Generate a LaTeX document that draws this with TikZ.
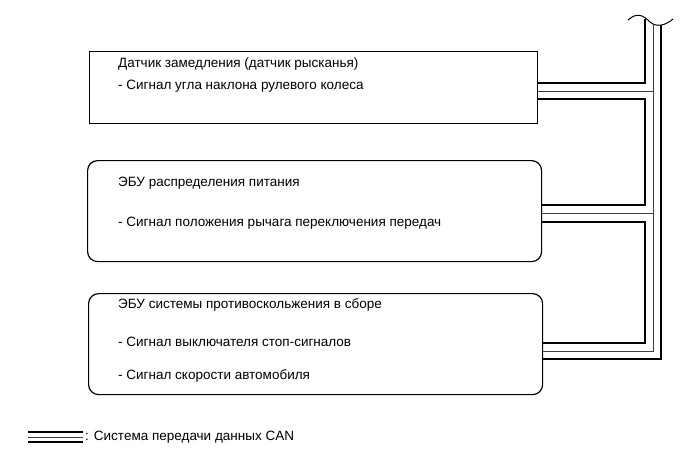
\documentclass[tikz,border=0pt]{standalone}
\usepackage{fontspec}
\setmainfont{Liberation Sans}
\usetikzlibrary{positioning}

\begin{document}
\begin{tikzpicture}[x = 1pt, y = -1pt,
	box/.style = {draw, line width = 1.3pt, anchor = north west, inner sep = 0},
	rbox/.style = {box, rounded corners = 10pt, line width = 1.2pt},
	txt/.style = {anchor = west, inner sep = 0, font = \fontsize{13.5}{15}\selectfont},
	thick bus/.style = {line width = 1.6pt},
	thin bus/.style = {line width = 0.9pt, black!75}]
	%	page
	\useasboundingbox (0, 0) rectangle (690, 467);

	%	bus setup
	\def\xa{645}
	\def\xb{653}
	\def\xc{661}

	%	units
	\node[box, minimum width = 448pt, minimum height = 72pt] (decel) at (89, 51) {};
	\node[rbox, minimum width = 454pt, minimum height = 101pt] (power) at (87, 160) {};
	\node[rbox, minimum width = 454pt, minimum height = 101pt] (abs) at (88, 293) {};

	%	texts
	\node[txt] (decel1) at (118, 64) {Датчик замедления (датчик рысканья)};
	\node[txt] (decel2) at (118, 86) {- Сигнал угла наклона рулевого колеса};
	\node[txt] (power1) at (118, 183) {ЭБУ распределения питания};
	\node[txt] (power2) at (118, 223) {- Сигнал положения рычага переключения передач};
	\node[txt] (abs1) at (118, 305) {ЭБУ системы противоскольжения в сборе};
	\node[txt] (abs2) at (118, 342) {- Сигнал выключателя стоп-сигналов};
	\node[txt] (abs3) at (118, 376) {- Сигнал скорости автомобиля};

	%	bus
	\coordinate (topa) at (\xa, 19);
	\coordinate (topb) at (\xb, 25);
	\coordinate (topc) at (\xc, 25);
	\draw[line width = 1pt] (628, 20) .. controls (637, 12) and (643, 15) .. (650, 22) .. controls (657, 28) and (666, 25) .. (673, 19);
	\draw[thick bus] (topa) |- (decel.east |- {(0, 83)});
	\draw[thin bus] (decel.east |- {(0, 91)}) -- (\xb, 91);
	\draw[thick bus] (decel.east |- {(0, 99)}) -| (\xa, 205) -- (power.east |- {(0, 205)});
	\draw[thin bus] (power.east |- {(0, 213)}) -- (\xb, 213);
	\draw[thick bus] (power.east |- {(0, 222)}) -| (\xa, 343) -- (abs.east |- {(0, 343)});
	\draw[thin bus] (topb) |- (abs.east |- {(0, 351)});
	\draw[thick bus] (topc) |- (abs.east |- {(0, 359)});

	%	legend
	\coordinate (lega) at (28, 432);
	\coordinate (legb) at (83, 432);
	\draw[thick bus] (lega) -- (legb);
	\draw[thin bus] ([yshift = -5pt] lega) -- ([yshift = -5pt] legb);
	\draw[thick bus] ([yshift = -10pt] lega) -- ([yshift = -10pt] legb);
	\node[txt] (legend) at (85, 437) {: Система передачи данных CAN};
\end{tikzpicture}
\end{document}
